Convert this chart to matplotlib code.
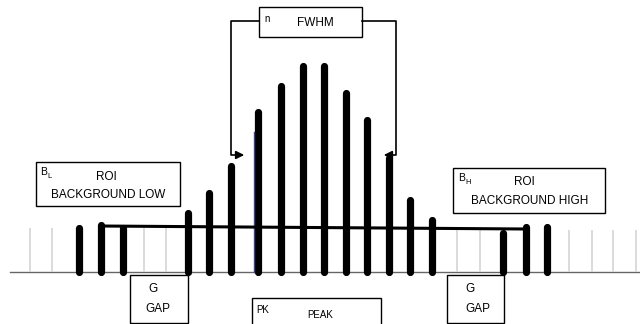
import matplotlib
matplotlib.use('Agg')
import matplotlib.pyplot as plt
from matplotlib.patches import Rectangle

plt.rcParams['font.family'] = ['Liberation Sans', 'DejaVu Sans']

# channel positions and counts (baseline = 0)
peak_x = [79, 101, 123, 188, 209, 231, 258, 281, 303, 324, 346, 367, 389, 410, 432, 503, 526, 547]
peak_h = [44, 47, 44, 59, 79, 106, 160, 186, 206, 206, 179, 152, 114, 72, 52, 39, 45, 45]
empty_x = [30, 52, 144, 166, 457, 480, 569, 592, 613, 636]
empty_h = [44, 44, 44, 44, 42, 42, 42, 42, 42, 42]

# background line ends
bg_x = [100, 526]
bg_y = [46, 43]

fig = plt.figure(figsize=(6.4, 3.24), dpi=100)
ax = fig.add_axes([0, 0, 1, 1])
ax.set_xlim(0, 640)
ax.set_ylim(-52, 272)
ax.axis('off')

ax.plot([10, 640], [0, 0], color='#666666', lw=1)
ax.vlines(empty_x, 0, empty_h, color='#d4d4d4', lw=1.2)
ax.vlines(peak_x, 0, peak_h, color='black', lw=5.2, capstyle='round')
ax.plot([254, 254], [0, 140], color='#444488', lw=1)
ax.plot(bg_x, bg_y, color='black', lw=2.2, solid_capstyle='round')


def box(x0, x1, y0, y1):
    ax.add_patch(Rectangle((x0, y0), x1 - x0, y1 - y0, fill=False, lw=1, ec='black'))


fs = 8.5
box(36, 180, 66, 110)
ax.text(40, 100, 'B', fontsize=7.5, va='center')
ax.text(47, 96, 'L', fontsize=5.5, va='center')
ax.text(106, 95, 'ROI', fontsize=fs, ha='center', va='center')
ax.text(108, 77, 'BACKGROUND LOW', fontsize=fs, ha='center', va='center')

box(453, 605, 59, 104)
ax.text(458, 94, 'B', fontsize=7.5, va='center')
ax.text(465, 90, 'H', fontsize=5.5, va='center')
ax.text(524, 90, 'ROI', fontsize=fs, ha='center', va='center')
ax.text(530, 71, 'BACKGROUND HIGH', fontsize=fs, ha='center', va='center')

box(259, 362, 235, 265)
ax.text(267, 253, 'n', fontsize=7, ha='center', va='center')
ax.text(315, 249, 'FWHM', fontsize=fs, ha='center', va='center')
ax.plot([259, 231, 231, 238], [251, 251, 117, 117], color='black', lw=1.2)
ax.plot([362, 396, 396, 390], [251, 251, 117, 117], color='black', lw=1.2)
ax.annotate('', xy=(247, 117), xytext=(236, 117),
            arrowprops=dict(arrowstyle='-|>', color='black', lw=1.2, mutation_scale=12))
ax.annotate('', xy=(381, 117), xytext=(392, 117),
            arrowprops=dict(arrowstyle='-|>', color='black', lw=1.2, mutation_scale=12))

box(130, 188, -51, -3)
ax.text(153, -17, 'G', fontsize=fs, ha='center', va='center')
ax.text(158, -37, 'GAP', fontsize=fs, ha='center', va='center')

box(447, 504, -51, -3)
ax.text(470, -17, 'G', fontsize=fs, ha='center', va='center')
ax.text(478, -37, 'GAP', fontsize=fs, ha='center', va='center')

box(252, 381, -60, -26)
ax.text(256, -38, 'PK', fontsize=7, va='center')
ax.text(320, -43, 'PEAK', fontsize=7, ha='center', va='center')

fig.savefig('out.png', dpi=100)
